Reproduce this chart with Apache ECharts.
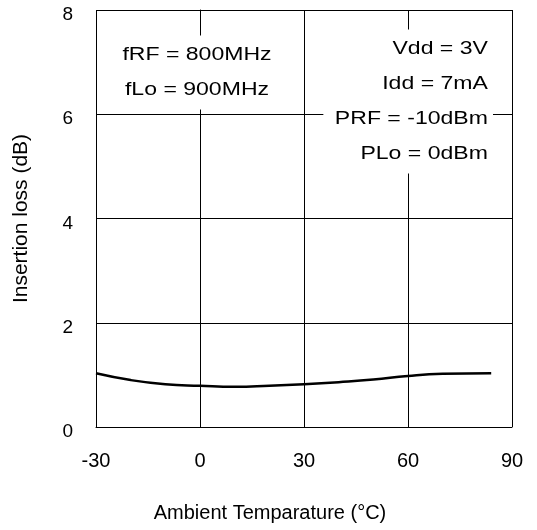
<!DOCTYPE html>
<html>
<head>
<meta charset="utf-8">
<script src="https://cdn.jsdelivr.net/npm/echarts@6/dist/echarts.min.js"></script>
<style>
  html, body { margin: 0; padding: 0; background: #fff; }
  #chart { width: 537px; height: 530px; }
</style>
</head>
<body>
<div id="chart"></div>
<script>
// 数据
const temps = [-30, -20, -10, 0, 10, 20, 30, 40, 50, 60, 70, 84];
const loss = [1.03, 0.90, 0.82, 0.79, 0.77, 0.79, 0.82, 0.86, 0.91, 0.98, 1.02, 1.03];
const xTicks = [-30, 0, 30, 60, 90];
const yTicks = [0, 2, 4, 6, 8];
const leftNote = ['fRF = 800MHz', 'fLo = 900MHz'];
const rightNote = ['Vdd = 3V', 'Idd = 7mA', 'PRF = -10dBm', 'PLo = 0dBm'];

const font = '"Liberation Sans", Arial, sans-serif';
const myChart = echarts.init(document.getElementById('chart'));

const option = {
    backgroundColor: '#fff',
    animation: false,
    grid: { left: 96, right: 25, top: 10, bottom: 103 },
    xAxis: {
        type: 'value',
        min: xTicks[0],
        max: xTicks[xTicks.length - 1],
        interval: 30,
        name: 'Ambient Temparature (°C)',
        nameLocation: 'middle',
        nameGap: 76,
        nameTextStyle: { fontFamily: font, fontSize: 20, color: '#000', padding: [0, 68, 0, 0] },
        axisLine: { show: true, lineStyle: { color: '#000', width: 1 } },
        axisTick: { show: false },
        axisLabel: { fontFamily: font, fontSize: 20, color: '#000', margin: 24 },
        splitLine: { show: true, lineStyle: { color: '#000', width: 1 } }
    },
    yAxis: {
        type: 'value',
        min: yTicks[0],
        max: yTicks[yTicks.length - 1],
        interval: 2,
        name: 'Insertion loss (dB)',
        nameLocation: 'middle',
        nameGap: 64,
        nameTextStyle: { fontFamily: font, fontSize: 21, color: '#000' },
        axisLine: { show: true, lineStyle: { color: '#000', width: 1 } },
        axisTick: { show: false },
        // 标签比网格线略低
        axisLabel: { fontFamily: font, fontSize: 19, color: '#000', margin: 23, verticalAlign: 'top', lineHeight: 10 },
        splitLine: { show: true, lineStyle: { color: '#000', width: 1 } }
    },
    series: [{
        type: 'line',
        data: temps.map((t, i) => [t, loss[i]]),
        smooth: true,
        symbol: 'none',
        lineStyle: { color: '#000', width: 2.5 }
    }],
    graphic: [
        {
            type: 'text',
            x: 197,
            y: 72.5,
            scaleX: 1.28,
            z: 100,
            style: {
                text: leftNote.join('\n'),
                font: '18px ' + font,
                fill: '#000',
                textAlign: 'center',
                textVerticalAlign: 'middle',
                lineHeight: 35,
                backgroundColor: '#fff',
                padding: [2, 6, 2, 6]
            }
        },
        {
            type: 'text',
            x: 493,
            y: 101.5,
            scaleX: 1.28,
            z: 100,
            style: {
                text: rightNote.join('\n'),
                font: '18px ' + font,
                fill: '#000',
                textAlign: 'right',
                textVerticalAlign: 'middle',
                lineHeight: 34.7,
                backgroundColor: '#fff',
                padding: [5, 4, 0, 9]
            }
        }
    ]
};

option && myChart.setOption(option);
</script>
</body>
</html>
